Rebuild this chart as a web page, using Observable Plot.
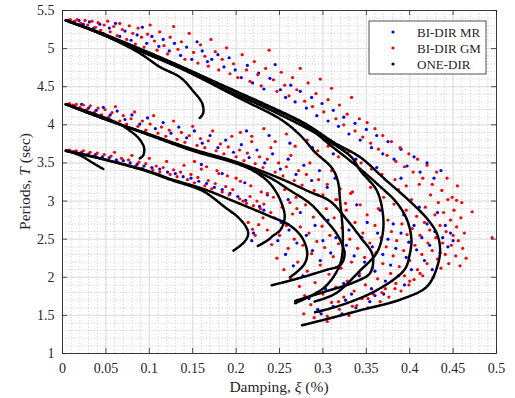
<!DOCTYPE html>
<html><head><meta charset="utf-8">
<script src="https://cdn.jsdelivr.net/npm/d3@7"></script>
<script src="https://cdn.jsdelivr.net/npm/@observablehq/plot@0.6"></script>
<style>
body{margin:0;background:#fff;}
#chart{width:515px;height:398px;}
</style></head><body><div id="chart"></div>
<script>
// ---- tick labels ----
const xTicks = [0, 0.05, 0.1, 0.15, 0.2, 0.25, 0.3, 0.35, 0.4, 0.45, 0.5];
const yTicks = [1, 1.5, 2, 2.5, 3, 3.5, 4, 4.5, 5, 5.5];
const seriesNames = ["BI-DIR MR", "BI-DIR GM", "ONE-DIR"];
const seriesColors = ["#0000ff", "#ff0000", "#000000"];
const xLabel = ["Damping, ", "ξ", " (%)"];
const yLabel = ["Periods, ", "T", " (sec)"];

// ---- ONE-DIR (black) curves [damping, period] ----
const topHook = [[0.004,5.37],[0.043,5.2],[0.089,4.94],[0.112,4.76],[0.136,4.62],[0.15,4.45],[0.161,4.28],[0.162,4.15],[0.158,4.09]];
const topC3 = [[0.004,5.37],[0.043,5.2],[0.089,4.97],[0.136,4.74],[0.164,4.585],[0.202,4.36],[0.253,4.06],[0.275,3.85],[0.291,3.64],[0.31,3.44],[0.317,3.27],[0.32,2.97],[0.323,2.54],[0.32,2.18],[0.302,1.87],[0.268,1.66]];
const topC4 = [[0.004,5.37],[0.043,5.2],[0.089,4.98],[0.136,4.75],[0.18,4.5],[0.233,4.23],[0.279,3.97],[0.299,3.84],[0.333,3.575],[0.343,3.4],[0.362,3.14],[0.369,2.84],[0.369,2.58],[0.362,2.32],[0.343,2.09],[0.315,1.79],[0.29,1.68]];
const topC5 = [[0.004,5.37],[0.043,5.21],[0.089,4.99],[0.136,4.76],[0.202,4.42],[0.241,4.22],[0.279,4.0],[0.31,3.72],[0.34,3.45],[0.365,3.2],[0.385,2.98],[0.397,2.75],[0.402,2.5],[0.4,2.3],[0.394,2.1],[0.362,1.83],[0.32,1.63],[0.291,1.54]];
const topC6 = [[0.004,5.37],[0.043,5.21],[0.089,5.0],[0.136,4.77],[0.164,4.625],[0.202,4.43],[0.241,4.23],[0.279,4.02],[0.314,3.76],[0.343,3.575],[0.372,3.28],[0.398,3.02],[0.42,2.77],[0.431,2.58],[0.435,2.38],[0.432,2.15],[0.42,1.88],[0.39,1.71],[0.343,1.567],[0.308,1.462],[0.276,1.37]];
const midHook = [[0.004,4.27],[0.025,4.19],[0.045,4.11],[0.064,4.02],[0.078,3.92],[0.088,3.82],[0.094,3.7],[0.093,3.6],[0.089,3.56]];
const midC1 = [[0.004,4.27],[0.043,4.1],[0.101,3.87],[0.15,3.67],[0.201,3.5],[0.225,3.36],[0.239,3.23],[0.251,3.01],[0.256,2.79],[0.251,2.62],[0.242,2.54],[0.237,2.49],[0.225,2.41]];
const midC2 = [[0.004,4.27],[0.043,4.1],[0.101,3.87],[0.15,3.68],[0.201,3.51],[0.25,3.3],[0.285,3.12],[0.308,3.0],[0.328,2.75],[0.345,2.5],[0.356,2.33],[0.358,2.22],[0.354,2.05],[0.335,1.93],[0.302,1.81],[0.268,1.69]];
const midC3 = [[0.004,4.27],[0.043,4.1],[0.101,3.86],[0.15,3.66],[0.201,3.49],[0.24,3.3],[0.262,3.14],[0.285,2.97],[0.3,2.79],[0.317,2.55],[0.325,2.3],[0.32,2.16],[0.302,2.09],[0.27,1.98],[0.241,1.895]];
const botShort = [[0.004,3.66],[0.02,3.6],[0.035,3.5],[0.047,3.42]];
const botC1 = [[0.004,3.66],[0.043,3.56],[0.1,3.38],[0.124,3.28],[0.162,3.13],[0.187,2.92],[0.202,2.79],[0.211,2.67],[0.214,2.57],[0.21,2.47],[0.197,2.35]];
const botC2 = [[0.004,3.66],[0.043,3.56],[0.1,3.39],[0.124,3.29],[0.162,3.16],[0.201,2.98],[0.239,2.8],[0.262,2.68],[0.276,2.52],[0.282,2.32],[0.279,2.18],[0.27,2.07],[0.262,2.0]];
const oneDirCurves = [topHook, topC3, topC4, topC5, topC6, midHook, midC1, midC2, midC3, botShort, botC1, botC2];

// ---- BI-DIR GM (red) ----
const gmTop = [[0.004,5.37],[0.009,5.38],[0.014,5.36],[0.017,5.38],[0.021,5.33],[0.026,5.37],[0.029,5.31],[0.034,5.36],[0.038,5.28],[0.041,5.34],[0.044,5.24],[0.048,5.31],[0.052,5.36],[0.055,5.22],[0.059,5.29],[0.063,5.17],[0.066,5.33],[0.069,5.25],[0.074,5.12],[0.077,5.3],[0.081,5.2],[0.084,5.06],[0.087,5.27],[0.091,5.15],[0.094,5.02],[0.098,5.19],[0.101,5.31],[0.106,5.1],[0.109,4.98],[0.112,5.22],[0.117,5.04],[0.121,4.93],[0.124,5.15],[0.128,5.29],[0.133,4.99],[0.137,5.09],[0.141,4.86],[0.146,5.2],[0.151,4.95],[0.156,4.81],[0.159,5.05],[0.164,4.9],[0.168,4.77],[0.171,5.12],[0.176,4.96],[0.18,4.72],[0.184,4.86],[0.189,5.01],[0.193,4.67],[0.197,4.8],[0.202,4.62],[0.207,4.92],[0.212,4.72],[0.216,4.57],[0.221,4.83],[0.225,4.66],[0.229,4.51],[0.234,4.74],[0.238,4.98],[0.243,4.59],[0.247,4.44],[0.252,4.69],[0.256,4.52],[0.261,4.38],[0.265,4.62],[0.27,4.46],[0.274,4.74],[0.279,4.31],[0.283,4.55],[0.288,4.24],[0.292,4.41],[0.297,4.6],[0.301,4.17],[0.306,4.33],[0.31,4.48],[0.315,4.08],[0.319,4.26],[0.324,4.0],[0.328,4.14],[0.333,4.36],[0.337,3.92],[0.342,4.08],[0.346,3.84],[0.351,4.03],[0.355,3.76],[0.36,3.95],[0.364,3.68],[0.369,3.86],[0.374,3.6],[0.379,3.78],[0.384,3.52],[0.389,3.7],[0.394,3.45],[0.399,3.62],[0.404,3.38],[0.409,3.55],[0.415,3.3],[0.42,3.47],[0.426,3.22],[0.431,3.38],[0.437,3.14],[0.443,3.3],[0.449,3.05],[0.455,3.2],[0.46,2.98]];
const gmMid = [[0.004,4.27],[0.008,4.28],[0.012,4.26],[0.016,4.27],[0.02,4.23],[0.024,4.26],[0.028,4.2],[0.032,4.25],[0.037,4.17],[0.041,4.22],[0.045,4.13],[0.049,4.2],[0.053,4.1],[0.057,4.16],[0.061,4.24],[0.066,4.05],[0.07,4.12],[0.074,4.01],[0.079,4.08],[0.083,4.17],[0.087,3.98],[0.092,4.05],[0.096,3.93],[0.101,4.01],[0.105,4.12],[0.11,3.89],[0.114,3.97],[0.119,3.85],[0.123,3.93],[0.128,4.05],[0.132,3.81],[0.137,3.9],[0.141,3.77],[0.146,3.86],[0.15,3.98],[0.155,3.73],[0.159,3.82],[0.164,3.7],[0.168,3.79],[0.173,3.92],[0.177,3.66],[0.182,3.75],[0.186,3.62],[0.191,3.71],[0.195,3.85],[0.2,3.58],[0.204,3.67],[0.209,3.53],[0.213,3.63],[0.218,3.78],[0.222,3.49],[0.227,3.58],[0.231,3.44],[0.236,3.55],[0.24,3.7],[0.245,3.38],[0.249,3.5],[0.254,3.33],[0.258,3.45],[0.263,3.6],[0.267,3.27],[0.272,3.4],[0.276,3.21],[0.281,3.35],[0.285,3.5],[0.29,3.14],[0.295,3.28],[0.3,3.08],[0.305,3.22],[0.31,3.4],[0.315,3.02],[0.32,3.16],[0.326,2.97],[0.332,3.1],[0.205,3.9],[0.218,3.85],[0.232,3.95],[0.245,3.78],[0.258,3.88],[0.268,3.72],[0.282,3.8],[0.294,3.66],[0.306,3.72],[0.318,3.58],[0.33,3.65],[0.344,3.5],[0.356,3.42],[0.368,3.35],[0.383,3.28],[0.396,3.2]];
const gmBot = [[0.004,3.66],[0.008,3.67],[0.012,3.65],[0.016,3.66],[0.02,3.63],[0.024,3.66],[0.028,3.61],[0.032,3.64],[0.036,3.59],[0.04,3.63],[0.044,3.56],[0.048,3.61],[0.052,3.54],[0.056,3.59],[0.06,3.64],[0.064,3.51],[0.068,3.56],[0.072,3.48],[0.076,3.54],[0.08,3.6],[0.084,3.46],[0.088,3.51],[0.092,3.43],[0.096,3.49],[0.1,3.56],[0.104,3.41],[0.108,3.46],[0.112,3.38],[0.116,3.44],[0.12,3.52],[0.124,3.35],[0.128,3.41],[0.132,3.32],[0.136,3.38],[0.14,3.47],[0.144,3.28],[0.148,3.35],[0.152,3.24],[0.156,3.31],[0.16,3.42],[0.164,3.2],[0.168,3.27],[0.172,3.16],[0.176,3.23],[0.18,3.36],[0.184,3.12],[0.188,3.19],[0.192,3.08],[0.196,3.15],[0.2,3.3],[0.204,3.03],[0.208,3.0],[0.212,2.97],[0.216,3.06],[0.22,2.94],[0.224,3.0],[0.228,2.9],[0.232,2.96],[0.236,3.1],[0.24,2.85],[0.214,2.72],[0.219,2.63],[0.222,2.55],[0.226,2.69],[0.231,2.78],[0.152,3.52],[0.166,3.45],[0.178,3.4],[0.19,3.33],[0.205,3.26],[0.217,3.2],[0.229,3.12],[0.243,3.05],[0.256,3.15],[0.262,2.98],[0.27,2.9]];
const gmLow = [[0.236,2.62],[0.241,2.43],[0.244,2.78],[0.247,2.25],[0.25,2.55],[0.253,2.92],[0.255,2.1],[0.258,2.68],[0.26,2.38],[0.263,1.98],[0.265,2.83],[0.267,2.5],[0.269,3.05],[0.271,2.2],[0.273,1.88],[0.274,2.66],[0.277,2.42],[0.279,1.76],[0.28,2.95],[0.282,2.08],[0.284,2.58],[0.286,1.64],[0.287,2.31],[0.289,2.79],[0.291,1.93],[0.293,2.47],[0.294,3.08],[0.296,1.55],[0.297,2.16],[0.299,2.67],[0.3,1.78],[0.302,2.39],[0.304,2.9],[0.305,1.49],[0.307,2.04],[0.308,2.55],[0.31,1.67],[0.312,2.27],[0.313,2.78],[0.315,1.87],[0.316,3.02],[0.318,2.44],[0.319,1.58],[0.321,2.12],[0.322,2.65],[0.324,1.74],[0.325,2.33],[0.327,2.88],[0.328,1.95],[0.33,1.5],[0.331,2.5],[0.333,2.2],[0.334,3.12],[0.336,1.82],[0.337,2.72],[0.339,1.63],[0.34,2.38],[0.342,2.05],[0.343,2.95],[0.345,1.72],[0.346,2.58],[0.348,2.26],[0.349,1.9],[0.351,2.82],[0.352,1.6],[0.354,2.45],[0.355,3.18],[0.357,2.12],[0.358,1.78],[0.36,2.68],[0.361,2.32],[0.363,1.98],[0.364,2.9],[0.366,1.68],[0.367,2.52],[0.369,2.18],[0.37,3.05],[0.372,1.85],[0.373,2.4],[0.375,2.75],[0.376,1.74],[0.378,2.05],[0.379,2.6],[0.381,2.28],[0.382,2.96],[0.384,1.92],[0.385,2.48],[0.387,3.15],[0.388,2.14],[0.39,1.82],[0.391,2.7],[0.393,2.35],[0.394,2.02],[0.396,2.88],[0.397,2.56],[0.399,1.9],[0.4,2.22],[0.402,3.02],[0.403,2.64],[0.405,1.97],[0.406,2.42],[0.408,2.8],[0.409,2.1],[0.411,3.22],[0.412,2.55],[0.414,2.3],[0.415,2.02],[0.417,2.72],[0.418,2.92],[0.42,2.18],[0.421,2.45],[0.423,2.62],[0.424,3.08],[0.426,2.35],[0.427,2.0],[0.429,2.82],[0.43,2.52],[0.432,2.24],[0.433,2.98],[0.435,2.68],[0.436,2.12],[0.438,2.45],[0.439,2.85],[0.441,2.3],[0.442,2.6],[0.444,3.02],[0.445,2.18],[0.447,2.75],[0.448,2.42],[0.45,2.55],[0.451,2.88],[0.453,2.28],[0.454,2.66],[0.456,2.48],[0.458,2.15],[0.459,2.78],[0.461,2.38],[0.463,2.58],[0.465,2.25],[0.472,2.86],[0.495,2.52],[0.454,3.01],[0.318,1.68],[0.334,1.62],[0.352,1.72],[0.368,1.8],[0.383,1.85],[0.4,1.95],[0.412,2.05],[0.29,1.47],[0.305,1.42],[0.278,1.52]];
const gmPoints = [...gmTop, ...gmMid, ...gmBot, ...gmLow];

// ---- BI-DIR MR (blue) ----
const mrTop = [[0.007,5.37],[0.013,5.35],[0.019,5.37],[0.024,5.32],[0.031,5.35],[0.036,5.27],[0.043,5.32],[0.047,5.2],[0.054,5.27],[0.061,5.33],[0.066,5.16],[0.072,5.23],[0.079,5.11],[0.086,5.18],[0.092,5.28],[0.097,5.07],[0.103,5.16],[0.111,5.03],[0.116,5.12],[0.123,4.97],[0.129,5.07],[0.136,4.91],[0.143,5.02],[0.149,4.86],[0.155,5.09],[0.161,4.97],[0.167,4.83],[0.172,4.86],[0.179,4.92],[0.186,4.76],[0.192,4.88],[0.199,4.72],[0.206,4.62],[0.213,4.78],[0.219,4.55],[0.226,4.68],[0.232,4.47],[0.239,4.61],[0.245,4.79],[0.251,4.46],[0.257,4.36],[0.263,4.52],[0.268,4.3],[0.274,4.44],[0.281,4.22],[0.287,4.36],[0.293,4.12],[0.299,4.28],[0.306,4.05],[0.312,4.19],[0.318,3.98],[0.324,4.1],[0.33,3.88],[0.337,4.02],[0.343,3.8],[0.35,3.94],[0.356,3.7],[0.362,3.86],[0.369,3.62],[0.375,3.78],[0.382,3.55],[0.39,3.68],[0.397,3.46],[0.405,3.58],[0.412,3.38],[0.42,3.5],[0.428,3.3],[0.436,3.4]];
const mrMid = [[0.006,4.27],[0.014,4.25],[0.022,4.27],[0.03,4.22],[0.039,4.19],[0.047,4.23],[0.055,4.13],[0.063,4.18],[0.072,4.07],[0.08,4.13],[0.089,4.01],[0.098,4.09],[0.107,3.95],[0.116,4.03],[0.125,3.89],[0.134,3.97],[0.143,3.83],[0.152,3.92],[0.161,3.76],[0.17,3.86],[0.179,3.7],[0.188,3.8],[0.197,3.64],[0.206,3.74],[0.215,3.57],[0.224,3.67],[0.233,3.5],[0.242,3.62],[0.251,3.42],[0.26,3.55],[0.269,3.35],[0.278,3.47],[0.287,3.27],[0.296,3.4],[0.305,3.18],[0.314,3.3],[0.212,3.92],[0.238,3.86],[0.262,3.76],[0.288,3.7],[0.312,3.62],[0.338,3.55],[0.362,3.44],[0.39,3.3]];
const mrBot = [[0.006,3.66],[0.014,3.65],[0.022,3.64],[0.03,3.62],[0.038,3.61],[0.046,3.58],[0.054,3.57],[0.062,3.54],[0.07,3.53],[0.078,3.5],[0.086,3.48],[0.094,3.46],[0.103,3.44],[0.112,3.42],[0.121,3.38],[0.13,3.36],[0.139,3.32],[0.148,3.3],[0.157,3.26],[0.166,3.23],[0.175,3.18],[0.184,3.15],[0.193,3.1],[0.202,3.06],[0.211,3.01],[0.22,2.58],[0.218,2.48],[0.232,2.88],[0.227,2.93],[0.16,3.48],[0.184,3.36],[0.21,3.24],[0.236,3.08],[0.26,3.02]];
const mrLow = [[0.248,2.48],[0.252,2.72],[0.257,2.3],[0.261,2.62],[0.266,2.15],[0.27,2.45],[0.274,2.85],[0.277,2.02],[0.281,2.55],[0.284,1.72],[0.288,2.35],[0.291,2.68],[0.294,1.58],[0.297,2.22],[0.3,2.48],[0.303,1.85],[0.306,2.75],[0.309,2.32],[0.312,1.62],[0.315,2.52],[0.318,2.12],[0.321,2.85],[0.324,1.92],[0.327,2.42],[0.33,2.62],[0.333,1.78],[0.336,2.28],[0.339,2.95],[0.342,2.02],[0.345,2.52],[0.348,2.2],[0.351,2.72],[0.354,1.68],[0.357,2.4],[0.36,2.08],[0.363,2.58],[0.366,2.88],[0.369,2.3],[0.372,1.95],[0.375,2.5],[0.378,2.16],[0.381,2.7],[0.384,2.38],[0.387,2.02],[0.39,2.58],[0.393,2.82],[0.396,2.26],[0.399,2.46],[0.402,2.1],[0.405,2.68],[0.408,2.36],[0.411,2.92],[0.414,2.52],[0.417,2.22],[0.42,2.7],[0.423,2.42],[0.426,2.1],[0.429,2.6],[0.432,2.85],[0.435,2.32],[0.438,2.52],[0.441,2.68],[0.444,2.4],[0.447,2.58],[0.45,2.48],[0.356,1.85],[0.338,1.6],[0.322,1.52],[0.37,1.78],[0.326,1.7],[0.36,1.76],[0.394,1.9],[0.298,1.52]];
const mrPoints = [...mrTop, ...mrMid, ...mrBot, ...mrLow];

// ---- layout ----
const W = 515, H = 398, ML = 62, MR = 19, MT = 10, MB = 45;
const xMinor = d3.range(0, 0.5001, 0.01);
const yMinor = d3.range(1, 5.5001, 0.1);
const blackRows = oneDirCurves.flatMap((c, i) => c.map(([x, y]) => ({x, y, id: i})));
const fmt = d3.format("~g");
const ink = "#262626";
const font = "'Liberation Serif','Times New Roman',serif";

const plot = Plot.plot({
  width: W, height: H,
  marginLeft: ML, marginRight: MR, marginTop: MT, marginBottom: MB,
  style: {fontFamily: font, fontSize: "14px", color: ink, background: "white"},
  x: {domain: [0, 0.5]},
  y: {domain: [1, 5.5]},
  marks: [
    Plot.ruleX(xMinor, {stroke: "#bdbdbd", strokeWidth: 0.8, strokeDasharray: "1,2.2"}),
    Plot.ruleY(yMinor, {stroke: "#bdbdbd", strokeWidth: 0.8, strokeDasharray: "1,2.2"}),
    Plot.ruleX(xTicks, {stroke: "#dedede", strokeWidth: 1}),
    Plot.ruleY(yTicks, {stroke: "#dedede", strokeWidth: 1}),
    Plot.dot(mrPoints, {x: d => d[0], y: d => d[1], r: 1.6, fill: seriesColors[0], stroke: null}),
    Plot.dot(gmPoints, {x: d => d[0], y: d => d[1], r: 1.6, fill: seriesColors[1], stroke: null}),
    Plot.line(blackRows, {x: "x", y: "y", z: "id", stroke: seriesColors[2], strokeWidth: 2.5, curve: "catmull-rom", strokeDasharray: "2.4,0.9"}),
    Plot.ruleX(xTicks, {y1: 1, y2: 1.066, stroke: ink, strokeWidth: 0.8}),
    Plot.ruleX(xTicks, {y1: 5.5, y2: 5.434, stroke: ink, strokeWidth: 0.8}),
    Plot.ruleY(yTicks, {x1: 0, x2: 0.0058, stroke: ink, strokeWidth: 0.8}),
    Plot.ruleY(yTicks, {x1: 0.5, x2: 0.4942, stroke: ink, strokeWidth: 0.8}),
    Plot.frame({stroke: ink, strokeWidth: 0.9}),
    Plot.axisX({ticks: xTicks, tickSize: 0, tickPadding: 10, tickFormat: fmt, label: null, fontSize: 14, fontFamily: font, fill: ink}),
    Plot.axisY({ticks: yTicks, tickSize: 0, tickPadding: 8, tickFormat: fmt, label: null, fontSize: 14, fontFamily: font, fill: ink})
  ]
});

const svg = d3.select(plot);
// x label
const xl = svg.append("text").attr("x", ML + (W - ML - MR) / 2).attr("y", 392)
  .attr("text-anchor", "middle").attr("font-family", font).attr("font-size", 15.5).attr("fill", ink);
xLabel.forEach((t, i) => xl.append("tspan").attr("font-style", i === 1 ? "italic" : "normal").text(t));
// y label
const yl = svg.append("text").attr("transform", `translate(25,${MT + (H - MT - MB) / 2}) rotate(-90)`)
  .attr("text-anchor", "middle").attr("dy", "0.35em").attr("font-family", font).attr("font-size", 15.5).attr("fill", ink);
yLabel.forEach((t, i) => yl.append("tspan").attr("font-style", i === 1 ? "italic" : "normal").text(t));
// legend
const lg = svg.append("g").attr("transform", "translate(369,21)");
lg.append("rect").attr("width", 117).attr("height", 53).attr("fill", "white").attr("stroke", ink).attr("stroke-width", 0.8);
seriesNames.forEach((name, i) => {
  lg.append("circle").attr("cx", 24).attr("cy", 11 + 16 * i).attr("r", 1.6).attr("fill", seriesColors[i]);
  lg.append("text").attr("x", 48).attr("y", 11 + 16 * i).attr("dy", "0.35em").attr("text-anchor", "start")
    .attr("font-family", font).attr("font-size", 13).attr("fill", ink).text(name);
});

document.getElementById("chart").appendChild(plot);
</script>
</body></html>
